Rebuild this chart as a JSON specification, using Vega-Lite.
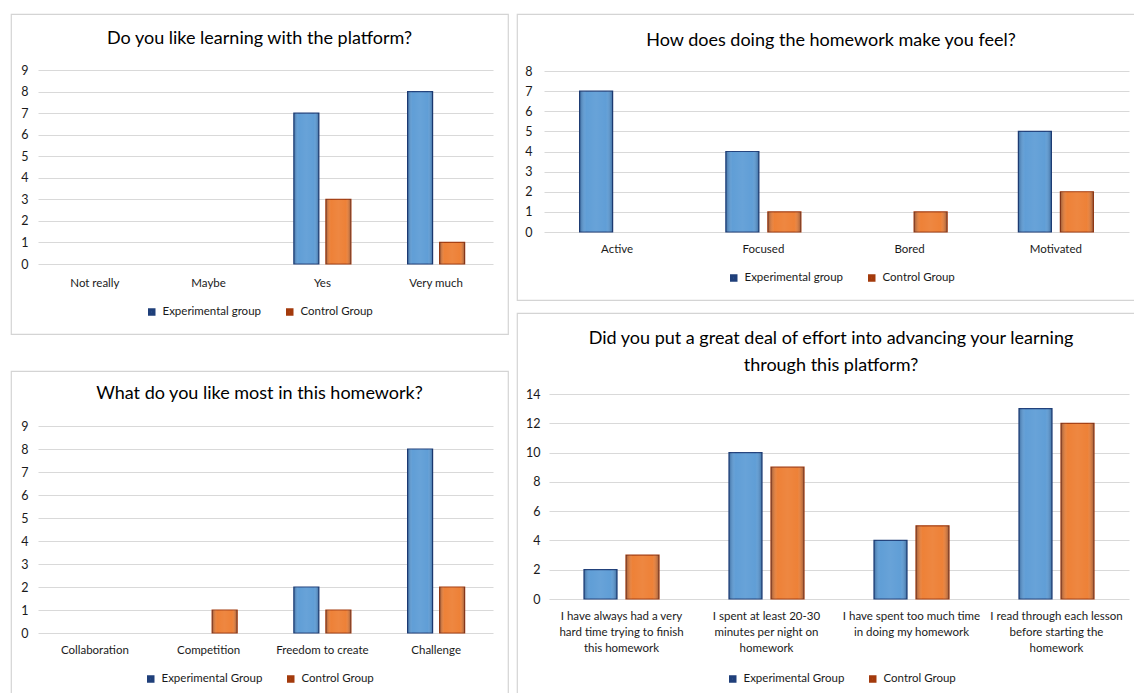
{
  "$schema": "https://vega.github.io/schema/vega-lite/v6.json",
  "padding": {"left": 10, "top": 13, "right": -32, "bottom": -32},
  "background": "white",
  "spacing": 7,
  "datasets": {
    "p1": [
      {"answer": "Not really", "group": "Experimental group", "count": 0},
      {"answer": "Not really", "group": "Control Group", "count": 0},
      {"answer": "Maybe", "group": "Experimental group", "count": 0},
      {"answer": "Maybe", "group": "Control Group", "count": 0},
      {"answer": "Yes", "group": "Experimental group", "count": 7},
      {"answer": "Yes", "group": "Control Group", "count": 3},
      {"answer": "Very much", "group": "Experimental group", "count": 8},
      {"answer": "Very much", "group": "Control Group", "count": 1}
    ],
    "p2": [
      {"answer": "Active", "group": "Experimental group", "count": 7},
      {"answer": "Active", "group": "Control Group", "count": 0},
      {"answer": "Focused", "group": "Experimental group", "count": 4},
      {"answer": "Focused", "group": "Control Group", "count": 1},
      {"answer": "Bored", "group": "Experimental group", "count": 0},
      {"answer": "Bored", "group": "Control Group", "count": 1},
      {"answer": "Motivated", "group": "Experimental group", "count": 5},
      {"answer": "Motivated", "group": "Control Group", "count": 2}
    ],
    "p3": [
      {"answer": "Collaboration", "group": "Experimental Group", "count": 0},
      {"answer": "Collaboration", "group": "Control Group", "count": 0},
      {"answer": "Competition", "group": "Experimental Group", "count": 0},
      {"answer": "Competition", "group": "Control Group", "count": 1},
      {"answer": "Freedom to create", "group": "Experimental Group", "count": 2},
      {"answer": "Freedom to create", "group": "Control Group", "count": 1},
      {"answer": "Challenge", "group": "Experimental Group", "count": 8},
      {"answer": "Challenge", "group": "Control Group", "count": 2}
    ],
    "p4": [
      {"answer": "I have always had a very|hard time trying to finish|this homework", "group": "Experimental Group", "count": 2},
      {"answer": "I have always had a very|hard time trying to finish|this homework", "group": "Control Group", "count": 3},
      {"answer": "I spent at least 20-30|minutes per night on|homework", "group": "Experimental Group", "count": 10},
      {"answer": "I spent at least 20-30|minutes per night on|homework", "group": "Control Group", "count": 9},
      {"answer": "I have spent too much time|in doing my homework", "group": "Experimental Group", "count": 4},
      {"answer": "I have spent too much time|in doing my homework", "group": "Control Group", "count": 5},
      {"answer": "I read through each lesson|before starting the|homework", "group": "Experimental Group", "count": 13},
      {"answer": "I read through each lesson|before starting the|homework", "group": "Control Group", "count": 12}
    ]
  },
  "resolve": {
    "scale": {"x": "independent", "y": "independent", "xOffset": "independent", "fill": "independent", "stroke": "independent"},
    "legend": {"fill": "independent", "stroke": "independent"}
  },
  "hconcat": [
    {
      "vconcat": [
        {
          "width": 497,
          "height": 320,
          "title": {"text": "Do you like learning with the platform?", "offset": -34},
          "data": {"name": "p1"},
          "transform": [{"filter": "datum.count > 0"}],
          "encoding": {
            "x": {"field": "answer", "type": "nominal", "sort": null,
              "scale": {"domain": ["Not really", "Maybe", "Yes", "Very much"], "range": [27, 482], "paddingInner": 0, "paddingOuter": 0},
              "axis": {"offset": -70, "labelPadding": 13}},
            "xOffset": {"field": "group", "type": "nominal",
              "scale": {"domain": ["Experimental group", "Control Group"], "paddingInner": 0.22, "paddingOuter": 0.885}},
            "y": {"field": "count", "type": "quantitative",
              "scale": {"domain": [0, 9], "range": [250, 56], "nice": false},
              "axis": {"values": [0, 1, 2, 3, 4, 5, 6, 7, 8, 9], "offset": -20}}
          },
          "layer": [
            {"mark": {"type": "bar", "strokeWidth": 1.2},
             "encoding": {
               "fill": {"field": "group", "type": "nominal",
                 "scale": {"domain": ["Experimental group", "Control Group"], "range": ["#5b9bd5", "#ed7d31"]},
                 "legend": {"offset": -28}},
               "stroke": {"field": "group", "type": "nominal",
                 "scale": {"domain": ["Experimental group", "Control Group"], "range": ["#1f3f7a", "#a33a0c"]},
                 "legend": {"offset": -28}}
             }},
            {"mark": {"type": "bar", "stroke": null, "fill": {"gradient": "linear", "x1": 0, "x2": 1, "y1": 0, "y2": 0,
              "stops": [{"offset": 0, "color": "rgba(0,20,60,0.35)"}, {"offset": 0.2, "color": "rgba(255,255,255,0.03)"}, {"offset": 0.5, "color": "rgba(255,255,255,0.08)"}, {"offset": 0.8, "color": "rgba(255,255,255,0.03)"}, {"offset": 1, "color": "rgba(0,20,60,0.35)"}]}}}
          ]
        },
        {
          "width": 497,
          "height": 354,
          "title": {"text": "What do you like most in this homework?", "offset": -32},
          "data": {"name": "p3"},
          "transform": [{"filter": "datum.count > 0"}],
          "encoding": {
            "x": {"field": "answer", "type": "nominal", "sort": null,
              "scale": {"domain": ["Collaboration", "Competition", "Freedom to create", "Challenge"], "range": [27, 482], "paddingInner": 0, "paddingOuter": 0},
              "axis": {"offset": -92, "labelPadding": 11}},
            "xOffset": {"field": "group", "type": "nominal",
              "scale": {"domain": ["Experimental Group", "Control Group"], "paddingInner": 0.22, "paddingOuter": 0.885}},
            "y": {"field": "count", "type": "quantitative",
              "scale": {"domain": [0, 9], "range": [262, 55], "nice": false},
              "axis": {"values": [0, 1, 2, 3, 4, 5, 6, 7, 8, 9], "offset": -20}}
          },
          "layer": [
            {"mark": {"type": "bar", "strokeWidth": 1.2},
             "encoding": {
               "fill": {"field": "group", "type": "nominal",
                 "scale": {"domain": ["Experimental Group", "Control Group"], "range": ["#5b9bd5", "#ed7d31"]},
                 "legend": {"offset": -52}},
               "stroke": {"field": "group", "type": "nominal",
                 "scale": {"domain": ["Experimental Group", "Control Group"], "range": ["#1f3f7a", "#a33a0c"]},
                 "legend": {"offset": -52}}
             }},
            {"mark": {"type": "bar", "stroke": null, "fill": {"gradient": "linear", "x1": 0, "x2": 1, "y1": 0, "y2": 0,
              "stops": [{"offset": 0, "color": "rgba(0,20,60,0.35)"}, {"offset": 0.2, "color": "rgba(255,255,255,0.03)"}, {"offset": 0.5, "color": "rgba(255,255,255,0.08)"}, {"offset": 0.8, "color": "rgba(255,255,255,0.03)"}, {"offset": 1, "color": "rgba(0,20,60,0.35)"}]}}}
          ]
        }
      ],
      "spacing": 37,
      "bounds": "flush",
      "resolve": {
        "scale": {"x": "independent", "y": "independent", "xOffset": "independent", "fill": "independent", "stroke": "independent"},
        "legend": {"fill": "independent", "stroke": "independent"}
      }
    },
    {
      "vconcat": [
        {
          "width": 648,
          "height": 286,
          "title": {"text": "How does doing the homework make you feel?", "offset": -36, "dx": -10},
          "data": {"name": "p2"},
          "transform": [{"filter": "datum.count > 0"}],
          "encoding": {
            "x": {"field": "answer", "type": "nominal", "sort": null,
              "scale": {"domain": ["Active", "Focused", "Bored", "Motivated"], "range": [27, 612], "paddingInner": 0, "paddingOuter": 0},
              "axis": {"offset": -68, "labelPadding": 11}},
            "xOffset": {"field": "group", "type": "nominal",
              "scale": {"domain": ["Experimental group", "Control Group"], "paddingInner": 0.214, "paddingOuter": 0.848}},
            "y": {"field": "count", "type": "quantitative",
              "scale": {"domain": [0, 8], "range": [218, 57], "nice": false},
              "axis": {"values": [0, 1, 2, 3, 4, 5, 6, 7, 8], "offset": -18}}
          },
          "layer": [
            {"mark": {"type": "bar", "strokeWidth": 1.2},
             "encoding": {
               "fill": {"field": "group", "type": "nominal",
                 "scale": {"domain": ["Experimental group", "Control Group"], "range": ["#5b9bd5", "#ed7d31"]},
                 "legend": {"offset": -28}},
               "stroke": {"field": "group", "type": "nominal",
                 "scale": {"domain": ["Experimental group", "Control Group"], "range": ["#1f3f7a", "#a33a0c"]},
                 "legend": {"offset": -28}}
             }},
            {"mark": {"type": "bar", "stroke": null, "fill": {"gradient": "linear", "x1": 0, "x2": 1, "y1": 0, "y2": 0,
              "stops": [{"offset": 0, "color": "rgba(0,20,60,0.35)"}, {"offset": 0.2, "color": "rgba(255,255,255,0.03)"}, {"offset": 0.5, "color": "rgba(255,255,255,0.08)"}, {"offset": 0.8, "color": "rgba(255,255,255,0.03)"}, {"offset": 1, "color": "rgba(0,20,60,0.35)"}]}}}
          ]
        },
        {
          "width": 648,
          "height": 412,
          "title": {"text": ["Did you put a great deal of effort into advancing your learning", "through this platform?"], "offset": -62, "dx": -10, "lineHeight": 27},
          "data": {"name": "p4"},
          "transform": [{"filter": "datum.count > 0"}],
          "encoding": {
            "x": {"field": "answer", "type": "nominal", "sort": null,
              "scale": {"range": [32, 612], "paddingInner": 0, "paddingOuter": 0},
              "axis": {"offset": -126, "labelPadding": 11, "labelExpr": "split(datum.label, '|')", "labelLineHeight": 16}},
            "xOffset": {"field": "group", "type": "nominal",
              "scale": {"domain": ["Experimental Group", "Control Group"], "paddingInner": 0.214, "paddingOuter": 0.833}},
            "y": {"field": "count", "type": "quantitative",
              "scale": {"domain": [0, 14], "range": [286, 81], "nice": false},
              "axis": {"values": [0, 2, 4, 6, 8, 10, 12, 14], "offset": -26}}
          },
          "layer": [
            {"mark": {"type": "bar", "strokeWidth": 1.2},
             "encoding": {
               "fill": {"field": "group", "type": "nominal",
                 "scale": {"domain": ["Experimental Group", "Control Group"], "range": ["#5b9bd5", "#ed7d31"]},
                 "legend": {"offset": -52}},
               "stroke": {"field": "group", "type": "nominal",
                 "scale": {"domain": ["Experimental Group", "Control Group"], "range": ["#1f3f7a", "#a33a0c"]},
                 "legend": {"offset": -52}}
             }},
            {"mark": {"type": "bar", "stroke": null, "fill": {"gradient": "linear", "x1": 0, "x2": 1, "y1": 0, "y2": 0,
              "stops": [{"offset": 0, "color": "rgba(0,20,60,0.35)"}, {"offset": 0.2, "color": "rgba(255,255,255,0.03)"}, {"offset": 0.5, "color": "rgba(255,255,255,0.08)"}, {"offset": 0.8, "color": "rgba(255,255,255,0.03)"}, {"offset": 1, "color": "rgba(0,20,60,0.35)"}]}}}
          ]
        }
      ],
      "spacing": 13,
      "bounds": "flush",
      "resolve": {
        "scale": {"x": "independent", "y": "independent", "xOffset": "independent", "fill": "independent", "stroke": "independent"},
        "legend": {"fill": "independent", "stroke": "independent"}
      }
    }
  ],
  "config": {
    "font": "Lato",
    "view": {"stroke": "#d4d4d4", "strokeWidth": 1.2},
    "title": {"fontSize": 18, "fontWeight": "normal", "color": "#000000", "anchor": "middle", "font": "Lato"},
    "axis": {"title": null, "domain": false, "ticks": false, "labelFont": "Lato", "labelColor": "#1a1a1a", "gridColor": "#d9d9d9", "gridWidth": 1.2},
    "axisX": {"labelAngle": 0, "labelFontSize": 11.5, "grid": false},
    "axisY": {"labelFontSize": 12.5, "labelPadding": 3, "grid": true},
    "legend": {"orient": "bottom", "title": null, "direction": "horizontal", "symbolType": "square", "symbolSize": 16, "symbolStrokeWidth": 3.5, "labelFontSize": 11.5, "labelColor": "#1a1a1a", "labelFont": "Lato", "columnPadding": 18, "labelOffset": 5, "layout": {"bottom": {"anchor": "middle"}}}
  }
}
